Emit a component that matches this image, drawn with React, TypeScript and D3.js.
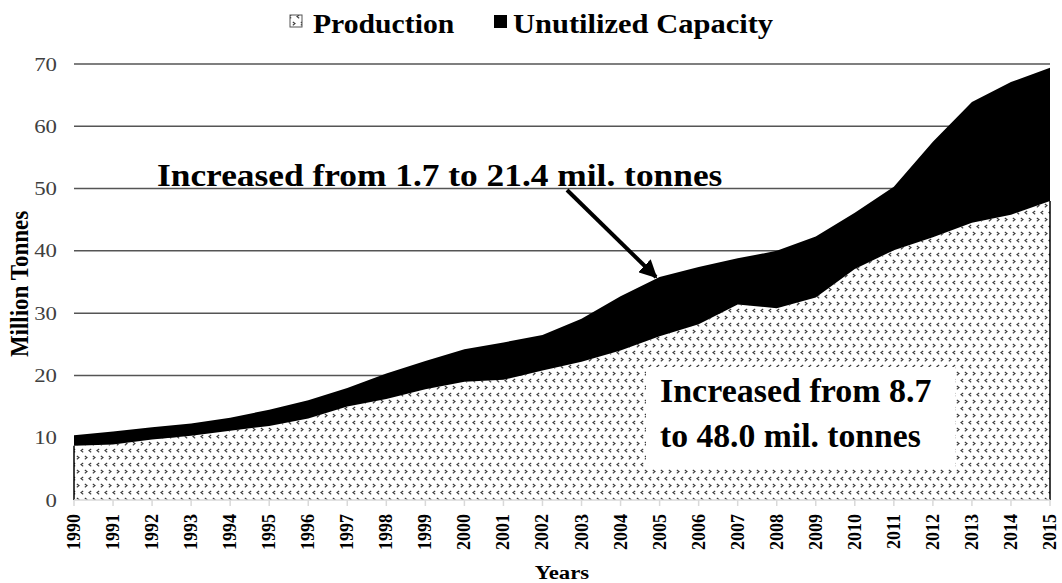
import React from "react";
import * as d3 from "d3";

const years = d3.range(1990, 2016);
const production = [8.7, 8.9, 9.7, 10.3, 11.1, 11.9, 13.1, 15.0, 16.2, 17.8, 19.0, 19.3, 20.8, 22.2, 24.0, 26.3, 28.2, 31.4, 30.8, 32.5, 37.1, 40.1, 42.2, 44.5, 45.8, 48.0];
const unutilized = [1.7, 2.1, 2.0, 2.0, 2.1, 2.6, 2.9, 3.0, 4.1, 4.5, 5.2, 6.0, 5.7, 6.9, 8.7, 9.5, 9.2, 7.4, 9.2, 9.8, 9.0, 10.2, 15.3, 19.4, 21.3, 21.4];
const yTicks = [0, 10, 20, 30, 40, 50, 60, 70];
const legendLabels = ["Production", "Unutilized Capacity"];
const annotationTop = "Increased from 1.7 to 21.4 mil. tonnes";
const annotationBottom = ["Increased from 8.7", "to 48.0 mil. tonnes"];

const W = 1062;
const H = 583;
const FONT = "'Liberation Serif', 'Times New Roman', serif";

function SText({ x, y, sx = 1, children, ...rest }: any) {
  return (
    <text transform={`translate(${x},${y}) scale(${sx},1)`} {...rest}>
      {children}
    </text>
  );
}

export default function App() {
  const x = d3.scaleLinear().domain([1990, 2015]).range([74, 1050]);
  const y = d3.scaleLinear().domain([0, 70]).range([500, 64]);

  const rows = years.map((yr, i) => ({ year: yr, production: production[i], unutilized: unutilized[i] }));
  const stack = d3.stack<any>().keys(["production", "unutilized"]);
  const series = stack(rows);

  const area = d3
    .area<any>()
    .x((d) => x(d.data.year))
    .y0((d) => y(d[0]))
    .y1((d) => y(d[1]));

  const x0 = x(1990);
  const x1 = x(2015);

  return (
    <svg width={W} height={H} style={{ position: "absolute", left: 0, top: 0, background: "#fff" }} fontFamily={FONT}>
      <defs>
        <pattern id="dots" patternUnits="userSpaceOnUse" width={8} height={14}>
          <rect width={8} height={14} fill="#fff" />
          <path d="M3.2,1 L1,2.6 L3.2,4.2" fill="none" stroke="#3a3a3a" strokeWidth={1.1} />
          <path d="M4.8,8 L7,9.6 L4.8,11.2" fill="none" stroke="#3a3a3a" strokeWidth={1.1} />
        </pattern>
        <marker id="arrow" viewBox="0 0 10 10" refX={9} refY={5} markerWidth={4.5} markerHeight={4.5} orient="auto">
          <path d="M0,0 L10,5 L0,10 Z" fill="#000" />
        </marker>
      </defs>

      {/* gridlines */}
      {yTicks.filter((t) => t > 0).map((t) => (
        <line key={t} x1={x0} x2={x1} y1={y(t)} y2={y(t)} stroke="#555" strokeWidth={1.5} />
      ))}

      {/* areas */}
      <path d={area(series[0] as any) || ""} fill="url(#dots)" />
      <path d={area(series[1] as any) || ""} fill="#000" />
      <line x1={x0} x2={x0} y1={y(0)} y2={y(production[0])} stroke="#000" strokeWidth={1.5} />
      <line x1={x1} x2={x1} y1={y(0)} y2={y(production[production.length - 1])} stroke="#000" strokeWidth={1.5} />

      {/* x axis */}
      <line x1={x0} x2={x1} y1={y(0)} y2={y(0)} stroke="#d9d9d9" strokeWidth={1.5} />
      {years.map((yr) => (
        <g key={yr}>
          <line x1={x(yr)} x2={x(yr)} y1={y(0)} y2={y(0) + 6} stroke="#d9d9d9" strokeWidth={1.5} />
          <text
            transform={`translate(${x(yr) + 6},${514}) rotate(-90) scale(1,1.1)`}
            textAnchor="end"
            fontSize={18}
            fontWeight="bold"
            fill="#000"
          >
            {yr}
          </text>
        </g>
      ))}

      {/* y tick labels */}
      {yTicks.map((t) => (
        <SText key={t} x={57} y={y(t) + 6.5} sx={1.2} textAnchor="end" fontSize={19} fill="#404040">
          {t}
        </SText>
      ))}

      {/* axis titles */}
      <SText x={562} y={579} sx={1.2} textAnchor="middle" fontSize={19} fontWeight="bold">
        Years
      </SText>
      <text transform={`translate(28,284) rotate(-90) scale(1,1.1)`} textAnchor="middle" fontSize={23} fontWeight="bold">
        Million Tonnes
      </text>

      {/* legend */}
      <rect x={290} y={15} width={12} height={12} fill="url(#dots)" stroke="#555" strokeWidth={1} />
      <SText x={313} y={33} sx={1.06} fontSize={28} fontWeight="bold">
        {legendLabels[0]}
      </SText>
      <rect x={494} y={15} width={13} height={13} fill="#000" />
      <SText x={513} y={33} sx={1.09} fontSize={28} fontWeight="bold">
        {legendLabels[1]}
      </SText>

      {/* top annotation */}
      <SText x={157} y={186} sx={1.105} fontSize={32} fontWeight="bold">
        {annotationTop}
      </SText>
      <line x1={567} y1={190} x2={656} y2={277} stroke="#000" strokeWidth={4} markerEnd="url(#arrow)" />

      {/* bottom annotation */}
      <rect x={646} y={367} width={309} height={100} fill="#fff" />
      <SText x={660} y={402} sx={1.03} fontSize={33} fontWeight="bold">
        {annotationBottom[0]}
      </SText>
      <SText x={660} y={447} sx={1.02} fontSize={33} fontWeight="bold">
        {annotationBottom[1]}
      </SText>
    </svg>
  );
}
